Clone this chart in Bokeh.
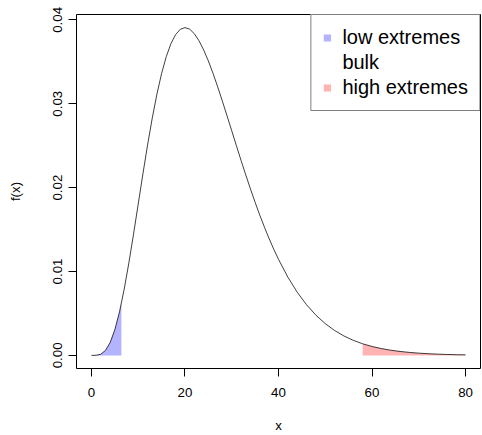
from bokeh.plotting import figure
from bokeh.models import Range1d, FixedTicker, NumeralTickFormatter, Legend, LegendItem
from bokeh.embed import file_html
from bokeh.resources import INLINE

# density curve f(x)
x_curve = [0, 1, 2, 3, 4, 5, 6, 7, 8, 9, 10, 11, 12, 13, 14, 15, 16, 17, 18, 19, 20,
           21, 22, 23, 24, 25, 26, 27, 28, 29, 30, 31, 32, 33, 34, 35, 36, 37, 38, 39, 40,
           42, 44, 46, 48, 50, 52, 54, 56, 58, 60, 62, 64, 66, 68, 70, 72, 74, 76, 78, 80]
f_curve = [0.0, 0.0000109, 0.000143, 0.000593, 0.001534, 0.003066, 0.005205, 0.007894,
           0.011026, 0.014460, 0.018045, 0.021630, 0.025082, 0.028285, 0.031148, 0.033606,
           0.035618, 0.037165, 0.038244, 0.038872, 0.039073, 0.038886, 0.038346, 0.037506,
           0.036406, 0.035093, 0.033613, 0.032004, 0.030306, 0.028551, 0.026771, 0.024989,
           0.023231, 0.021511, 0.019846, 0.018245, 0.016720, 0.015275, 0.013913, 0.012638,
           0.011450, 0.009330, 0.007533, 0.006032, 0.004794, 0.003783, 0.002967, 0.002313,
           0.001793, 0.001383, 0.001062, 0.000811, 0.000618, 0.000468, 0.000354, 0.000266,
           0.000200, 0.000149, 0.000111, 0.0000829, 0.0000615]

# low extremes region
x_low = [0, 1, 2, 3, 4, 5, 6, 6.4]
f_low = [0.0, 0.0000109, 0.000143, 0.000593, 0.001534, 0.003066, 0.005205, 0.006219]

# high extremes region
x_high = [58, 60, 62, 64, 66, 68, 70, 72, 74, 76, 78, 80]
f_high = [0.001383, 0.001062, 0.000811, 0.000618, 0.000468, 0.000354, 0.000266,
          0.000200, 0.000149, 0.000111, 0.0000829, 0.0000615]

x_ticks = [0, 20, 40, 60, 80]
y_ticks = [0.0, 0.01, 0.02, 0.03, 0.04]
legend_labels = ["low extremes", "bulk", "high extremes"]

FONT = "Liberation Sans"

p = figure(width=482, height=435, output_backend="svg", toolbar_location=None,
           x_range=Range1d(-3.2, 83.2), y_range=Range1d(-0.001563, 0.040636),
           min_border_left=76, min_border_right=2, min_border_top=14, min_border_bottom=67)
p.grid.visible = False
p.outline_line_color = "black"
p.outline_line_width = 1
p.background_fill_color = "white"

r_low = p.varea(x=x_low, y1=[0] * len(x_low), y2=f_low, fill_color="#b3b3ff")
r_high = p.varea(x=x_high, y1=[0] * len(x_high), y2=f_high, fill_color="#ffb3b3")
r_bulk = p.varea(x=[0, 0], y1=[0, 0], y2=[0, 0], fill_alpha=0)
p.line(x_curve, f_curve, line_color="black", line_width=0.75)

for ax in (p.xaxis[0], p.yaxis[0]):
    ax.axis_line_color = None
    ax.major_tick_out = 8
    ax.major_tick_in = 0
    ax.minor_tick_line_color = None
    ax.major_tick_line_color = "black"
    ax.major_label_text_font = FONT
    ax.major_label_text_font_size = "13.3px"
    ax.major_label_text_color = "black"
    ax.axis_label_text_font = FONT
    ax.axis_label_text_font_size = "13.3px"
    ax.axis_label_text_font_style = "normal"
    ax.axis_label_text_color = "black"

p.xaxis.ticker = FixedTicker(ticks=x_ticks)
p.yaxis.ticker = FixedTicker(ticks=y_ticks)
p.yaxis.formatter = NumeralTickFormatter(format="0.00")
p.yaxis.major_label_orientation = "vertical"
p.xaxis.axis_label = "x"
p.yaxis.axis_label = "f(x)"
p.xaxis.major_label_standoff = 11
p.xaxis.axis_label_standoff = 18
p.yaxis.major_label_standoff = 6
p.yaxis.axis_label_standoff = 28

legend = Legend(items=[LegendItem(label=legend_labels[0], renderers=[r_low]),
                       LegendItem(label=legend_labels[1], renderers=[r_bulk]),
                       LegendItem(label=legend_labels[2], renderers=[r_high])],
                location="top_right")
legend.margin = 0
legend.padding = 11
legend.spacing = 2
legend.glyph_width = 9
legend.glyph_height = 9
legend.label_standoff = 11
legend.label_text_font = FONT
legend.label_text_font_size = "20px"
legend.label_text_color = "black"
legend.border_line_color = "black"
legend.border_line_width = 1
legend.background_fill_color = "white"
legend.background_fill_alpha = 1
p.add_layout(legend)

open("out.html", "w").write(file_html(p, INLINE))
